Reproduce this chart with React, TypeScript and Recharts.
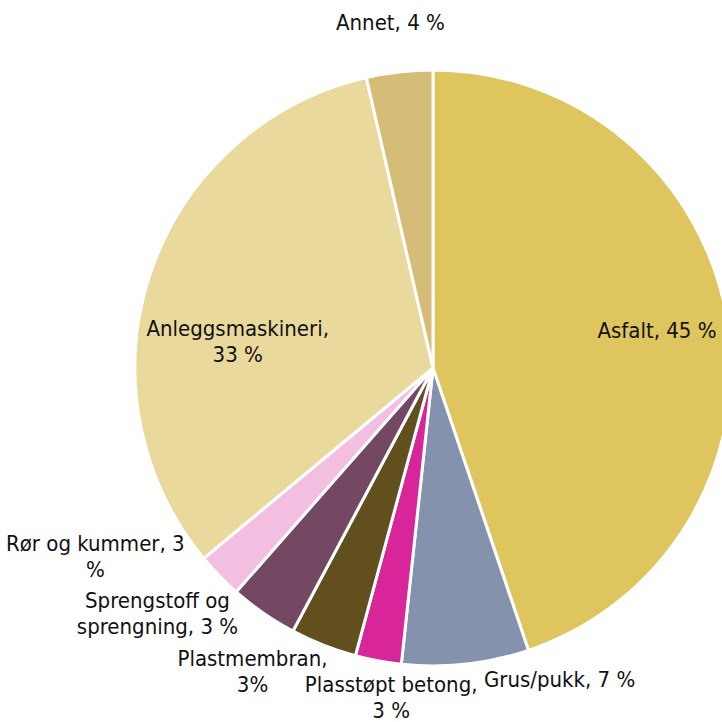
import { PieChart, Pie, Cell } from 'recharts';

const categories = [
  'Asfalt',
  'Grus/pukk',
  'Plasstøpt betong',
  'Plastmembran',
  'Sprengstoff og sprengning',
  'Rør og kummer',
  'Anleggsmaskineri',
  'Annet',
];

// shares (percent)
const shares = [44.9, 6.9, 2.5, 3.6, 3.7, 2.5, 32.5, 3.6];

// label text as printed, one entry per line
const labelLines = [
  ['Asfalt, 45 %'],
  ['Grus/pukk, 7 %'],
  ['Plasstøpt betong,', '3 %'],
  ['Plastmembran,', '3%'],
  ['Sprengstoff og', 'sprengning, 3 %'],
  ['Rør og kummer, 3', '%'],
  ['Anleggsmaskineri,', '33 %'],
  ['Annet, 4 %'],
];

const colors = ['#DEC55D', '#8592AE', '#D8259A', '#614F1E', '#744762', '#F2BFE0', '#EAD99C', '#D6BD77'];

// offset of each label block centre from the slice's outer edge point
const labelOffsets = [
  [-70, 10],
  [94, 15],
  [13, 36],
  [-71, 26],
  [-106, 0],
  [-124, -20],
  [87, 68],
  [-9, -50],
];

const data = categories.map((name, i) => ({ name, value: shares[i] }));

const RAD = Math.PI / 180;
const LINE_H = 26;

const renderLabel = (props: any) => {
  const { cx, cy, midAngle, outerRadius, index } = props;
  const px = cx + outerRadius * Math.cos(-midAngle * RAD);
  const py = cy + outerRadius * Math.sin(-midAngle * RAD);
  const [dx, dy] = labelOffsets[index];
  const lines = labelLines[index];
  const x = px + dx;
  const y0 = py + dy - ((lines.length - 1) * LINE_H) / 2;
  return (
    <text
      key={`lbl-${index}`}
      x={x}
      y={y0}
      textAnchor="middle"
      dominantBaseline="central"
      fill="#111"
      fontSize={22}
      fontFamily="'DejaVu Sans Condensed', sans-serif"
    >
      {lines.map((l, j) => (
        <tspan key={j} x={x} dy={j === 0 ? 0 : LINE_H}>
          {l}
        </tspan>
      ))}
    </text>
  );
};

export default function App() {
  return (
    <div style={{ position: 'absolute', left: 0, top: 0, width: 722, height: 722, background: '#fff' }}>
      <PieChart width={722} height={722} margin={{ top: 0, right: 0, bottom: 0, left: 0 }}>
        <Pie
          data={data}
          dataKey="value"
          cx={433}
          cy={368}
          outerRadius={298}
          startAngle={90}
          endAngle={-270}
          stroke="#fff"
          strokeWidth={3}
          label={renderLabel}
          labelLine={false}
          isAnimationActive={false}
        >
          {data.map((d, i) => (
            <Cell key={d.name} fill={colors[i]} />
          ))}
        </Pie>
      </PieChart>
    </div>
  );
}
